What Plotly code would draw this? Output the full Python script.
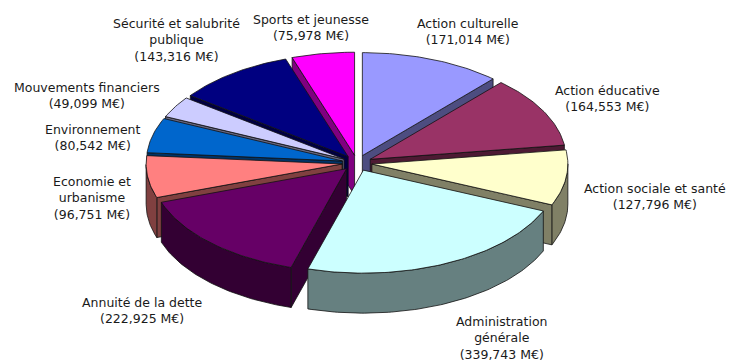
import numpy as np
import plotly.graph_objects as go

# Budget breakdown (M€)
categories = [
    "Action culturelle", "Action éducative", "Action sociale et santé",
    "Administration générale", "Annuité de la dette", "Economie et urbanisme",
    "Environnement", "Mouvements financiers", "Sécurité et salubrité publique",
    "Sports et jeunesse",
]
values = [171.014, 164.553, 127.796, 339.743, 222.925, 96.751,
          80.542, 49.099, 143.316, 75.978]

# How each category name is wrapped in its label
label_names = [
    "Action culturelle", "Action éducative", "Action sociale et santé",
    "Administration<br>générale", "Annuité de la dette", "Economie et<br>urbanisme",
    "Environnement", "Mouvements financiers", "Sécurité et salubrité<br>publique",
    "Sports et jeunesse",
]

top_colors = ["#9999FF", "#993366", "#FFFFCC", "#CCFFFF", "#660066",
              "#FF8080", "#0066CC", "#CCCCFF", "#000080", "#FF00FF"]
side_colors = ["#4D4D80", "#4D1A33", "#808066", "#668080", "#330033",
               "#804040", "#003366", "#666680", "#000040", "#800080"]

# Label centres (page pixels)
label_pos = [(468, 31), (607, 98), (655, 196), (501, 338), (142, 310),
             (92, 198), (93, 137), (87, 95), (176, 40), (311, 27)]

# Pie geometry in page pixels (y grows downward)
CX, CY = 357, 163
RX, RY = 196, 103
DEPTH = 40
EXPLODE = 15
W, H = 730, 362

fig = go.Figure()

total = sum(values)
bounds = np.concatenate([[0.0], np.cumsum(values)]) / total * 2 * np.pi

slices = []
for i, v in enumerate(values):
    t0, t1 = bounds[i], bounds[i + 1]
    mid = 0.5 * (t0 + t1)
    ax = CX + EXPLODE * np.sin(mid)
    ay = CY - EXPLODE * (RY / RX) * np.cos(mid)
    n = max(int(np.degrees(t1 - t0)) + 2, 3)
    ts = np.linspace(t0, t1, n)
    arc = np.column_stack([ax + RX * np.sin(ts), ay - RY * np.cos(ts)])
    poly = np.vstack([[ax, ay], arc])
    centroid = poly.mean(axis=0)
    slices.append(dict(i=i, apex=np.array([ax, ay]), arc=arc, poly=poly,
                       centroid=centroid))


def facing_viewer(p, q, c):
    d = q - p
    nrm = np.array([-d[1], d[0]])
    if np.dot(nrm, 0.5 * (p + q) - c) < 0:
        nrm = -nrm
    return nrm[1] > 1e-6


def add_poly(pts, fill, line_w=0.8):
    xs = list(pts[:, 0]) + [pts[0, 0]]
    ys = list(pts[:, 1]) + [pts[0, 1]]
    fig.add_trace(go.Scatter(
        x=xs, y=ys, mode="lines", fill="toself", fillcolor=fill,
        line=dict(color="#111111", width=line_w),
        hoverinfo="skip", showlegend=False,
    ))


def wall(points):
    top = np.array(points)
    bottom = top[::-1] + np.array([0, DEPTH])
    return np.vstack([top, bottom])


# Back slices first, front slices last
for s in sorted(slices, key=lambda s: s["centroid"][1]):
    i, apex, arc, c = s["i"], s["apex"], s["arc"], s["centroid"]
    walls = []
    # radial face at the start angle
    if facing_viewer(apex, arc[0], c):
        walls.append(wall([apex, arc[0]]))
    # curved outer face, split into visible runs
    run = []
    for k in range(len(arc) - 1):
        if facing_viewer(arc[k], arc[k + 1], c):
            if not run:
                run.append(arc[k])
            run.append(arc[k + 1])
        elif run:
            walls.append(wall(run))
            run = []
    if run:
        walls.append(wall(run))
    # radial face at the end angle
    if facing_viewer(arc[-1], apex, c):
        walls.append(wall([arc[-1], apex]))
    for wpts in walls:
        add_poly(wpts, side_colors[i])
    add_poly(s["poly"], top_colors[i])

for name, v, (lx, ly) in zip(label_names, values, label_pos):
    txt = f"{name}<br>({v:.3f} M€)".replace(".", ",")
    fig.add_annotation(
        x=lx, y=ly, text=txt, showarrow=False, xanchor="center",
        yanchor="middle", align="center",
        font=dict(family="DejaVu Sans", size=12.5, color="#1a1a1a"),
    )

fig.update_xaxes(range=[0, W], visible=False, fixedrange=True)
fig.update_yaxes(range=[H, 0], visible=False, fixedrange=True)
fig.update_layout(
    width=W, height=H, margin=dict(l=0, r=0, t=0, b=0),
    paper_bgcolor="white", plot_bgcolor="white", showlegend=False,
)

fig.write_html("out.html")
